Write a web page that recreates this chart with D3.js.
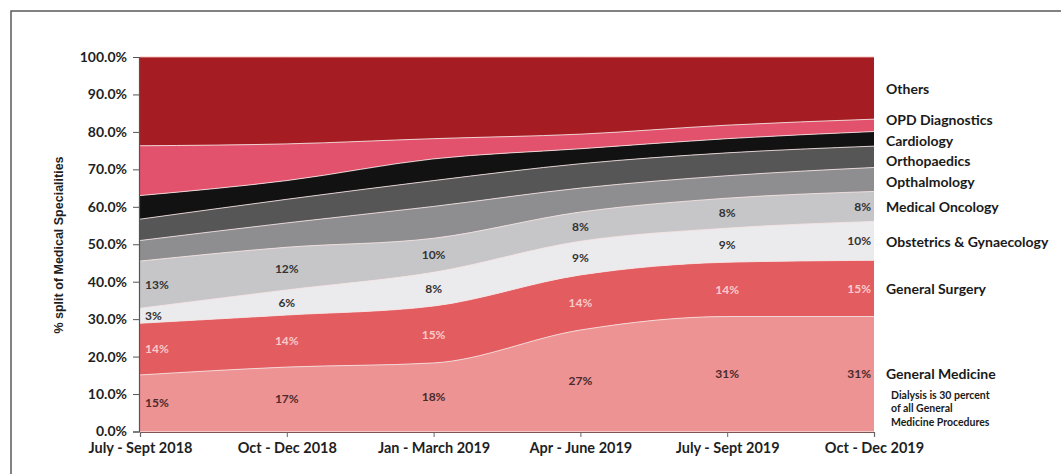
<!DOCTYPE html>
<html>
<head>
<meta charset="utf-8">
<script src="https://cdn.jsdelivr.net/npm/d3@7"></script>
<style>
  html, body { margin: 0; padding: 0; background: #ffffff; }
  svg { display: block; }
</style>
</head>
<body>
<svg id="chart" width="1061" height="474"></svg>
<script>
// ---------- DATA (percent share per quarter) ----------
const categories = ["July - Sept 2018", "Oct - Dec 2018", "Jan - March 2019", "Apr - June 2019", "July - Sept 2019", "Oct - Dec 2019"];

const generalMedicine   = [15.1, 17.2, 18.3, 27.1, 30.7, 30.7];
const generalSurgery    = [13.8, 13.9, 15.2, 14.7, 14.5, 15.0];
const obstetrics        = [ 4.0,  6.7,  9.0,  9.0,  9.1, 10.4];
const medicalOncology   = [12.6, 11.4,  9.1,  7.8,  8.0,  8.0];
const opthalmology      = [ 5.5,  6.5,  8.5,  6.4,  6.0,  6.4];
const orthopaedics      = [ 5.7,  6.3,  6.9,  6.5,  6.1,  5.7];
const cardiology        = [ 6.3,  5.0,  5.8,  4.0,  3.8,  3.9];
const opdDiagnostics    = [13.3,  9.8,  5.4,  3.9,  3.6,  3.3];
const others            = [23.7, 23.2, 21.8, 20.6, 18.2, 16.6];

const seriesNames = ["General Medicine", "General Surgery", "Obstetrics & Gynaecology", "Medical Oncology",
                     "Opthalmology", "Orthopaedics", "Cardiology", "OPD Diagnostics", "Others"];

// data-label texts shown on the chart
const labelsGeneralMedicine = ["15%", "17%", "18%", "27%", "31%", "31%"];
const labelsGeneralSurgery  = ["14%", "14%", "15%", "14%", "14%", "15%"];
const labelsObstetrics      = ["3%", "6%", "8%", "9%", "9%", "10%"];
const labelsMedicalOncology = ["13%", "12%", "10%", "8%", "8%", "8%"];

const yTicks = [0, 10, 20, 30, 40, 50, 60, 70, 80, 90, 100];
const yTitle = "% split of Medical Specialities";
const noteLines = ["Dialysis is 30 percent", "of all General", "Medicine Procedures"];

// ---------- STYLE ----------
const colors = {
  "General Medicine": "#ee9393",
  "General Surgery": "#e35c60",
  "Obstetrics & Gynaecology": "#ebebee",
  "Medical Oncology": "#c6c6c8",
  "Opthalmology": "#8e8e90",
  "Orthopaedics": "#565657",
  "Cardiology": "#121212",
  "OPD Diagnostics": "#e3526d",
  "Others": "#a51d22"
};
const legendY = {
  "Others": 89, "OPD Diagnostics": 120, "Cardiology": 141, "Orthopaedics": 161,
  "Opthalmology": 182, "Medical Oncology": 207, "Obstetrics & Gynaecology": 242,
  "General Surgery": 289, "General Medicine": 374
};
const FONT = "Lato, 'Open Sans', sans-serif";

// ---------- BUILD ----------
const allSeries = [generalMedicine, generalSurgery, obstetrics, medicalOncology, opthalmology,
                   orthopaedics, cardiology, opdDiagnostics, others];
const table = categories.map((c, i) => {
  const row = { category: c };
  seriesNames.forEach((n, k) => row[n] = allSeries[k][i]);
  return row;
});

const svg = d3.select("#chart");

// outer frame (top and left edges)
svg.append("path")
  .attr("d", "M11,474 L11,11 L1061,11")
  .attr("fill", "none").attr("stroke", "#5a5a5a").attr("stroke-width", 1.5);

const x = d3.scalePoint().domain(categories).range([140, 874]).padding(0);
const y = d3.scaleLinear().domain([0, 100]).range([431.5, 57]);

const stack = d3.stack().keys(seriesNames);
const stacked = stack(table);

const area = d3.area()
  .x(d => x(d.data.category))
  .y0(d => y(d[0]))
  .y1(d => y(d[1]))
  .curve(d3.curveMonotoneX);

const line = d3.line()
  .x(d => x(d.data.category))
  .y(d => y(d[1]))
  .curve(d3.curveMonotoneX);

const g = svg.append("g");
g.selectAll("path.area").data(stacked).join("path")
  .attr("class", "area")
  .attr("d", area)
  .attr("fill", d => colors[d.key]);

// thin light separators between bands
g.selectAll("path.sep").data(stacked).join("path")
  .attr("class", "sep")
  .attr("d", line)
  .attr("fill", "none")
  .attr("stroke", d => d.key === "Others" ? "#f4b9b0" : "#f6e3e3")
  .attr("stroke-width", 1)
  .attr("opacity", 0.85);

// ---------- AXES ----------
const yAxis = d3.axisLeft(y).tickValues(yTicks).tickSize(6).tickPadding(6)
  .tickFormat(d => d.toFixed(1) + "%");
const yg = svg.append("g").attr("transform", "translate(139,0)").call(yAxis);
yg.select(".domain").attr("stroke", "#555").attr("stroke-width", 1.2);
yg.selectAll(".tick line").attr("stroke", "#555");
yg.selectAll(".tick text")
  .attr("font-family", FONT).attr("font-weight", "bold").attr("font-size", 14)
  .attr("fill", "#1f1f1f");

const xAxis = d3.axisBottom(x).tickSize(5).tickPadding(6);
const xg = svg.append("g").attr("transform", "translate(0,432)").call(xAxis);
xg.select(".domain").attr("stroke", "#7d5555").attr("stroke-width", 1.2);
xg.selectAll(".tick line").attr("stroke", "#666");
xg.selectAll(".tick text")
  .attr("font-family", FONT).attr("font-weight", "bold").attr("font-size", 14.5)
  .attr("fill", "#1f1f1f");

// y title
svg.append("text")
  .attr("transform", "translate(63,245) rotate(-90)")
  .attr("text-anchor", "middle")
  .attr("font-family", "'Liberation Sans', Arial, sans-serif")
  .attr("font-weight", "bold").attr("font-size", 12.5)
  .attr("fill", "#1f1f1f")
  .text(yTitle);

// ---------- DATA LABELS ----------
const labelSets = [
  { key: "General Medicine", texts: labelsGeneralMedicine, color: "#4a2a2c" },
  { key: "General Surgery", texts: labelsGeneralSurgery, color: "#f9caca" },
  { key: "Obstetrics & Gynaecology", texts: labelsObstetrics, color: "#333" },
  { key: "Medical Oncology", texts: labelsMedicalOncology, color: "#333" }
];
const last = categories.length - 1;
labelSets.forEach(set => {
  const s = stacked.find(st => st.key === set.key);
  s.forEach((d, i) => {
    const cx = x(d.data.category);
    svg.append("text")
      .attr("x", i === 0 ? cx + 5 : (i === last ? cx - 3 : cx))
      .attr("y", y((d[0] + d[1]) / 2))
      .attr("dy", "0.35em")
      .attr("text-anchor", i === 0 ? "start" : (i === last ? "end" : "middle"))
      .attr("font-family", FONT).attr("font-weight", "bold").attr("font-size", 12)
      .attr("fill", set.color)
      .text(set.texts[i]);
  });
});

// ---------- LEGEND (right labels) ----------
seriesNames.forEach(n => {
  svg.append("text")
    .attr("x", 886).attr("y", legendY[n]).attr("dy", "0.35em")
    .attr("font-family", FONT).attr("font-weight", "bold").attr("font-size", 14)
    .attr("fill", "#1a1a1a")
    .text(n);
});
noteLines.forEach((t, i) => {
  svg.append("text")
    .attr("x", 891).attr("y", 395 + i * 13.8).attr("dy", "0.35em")
    .attr("font-family", FONT).attr("font-weight", "bold").attr("font-size", 10.5)
    .attr("fill", "#1a1a1a")
    .text(t);
});
</script>
</body>
</html>
